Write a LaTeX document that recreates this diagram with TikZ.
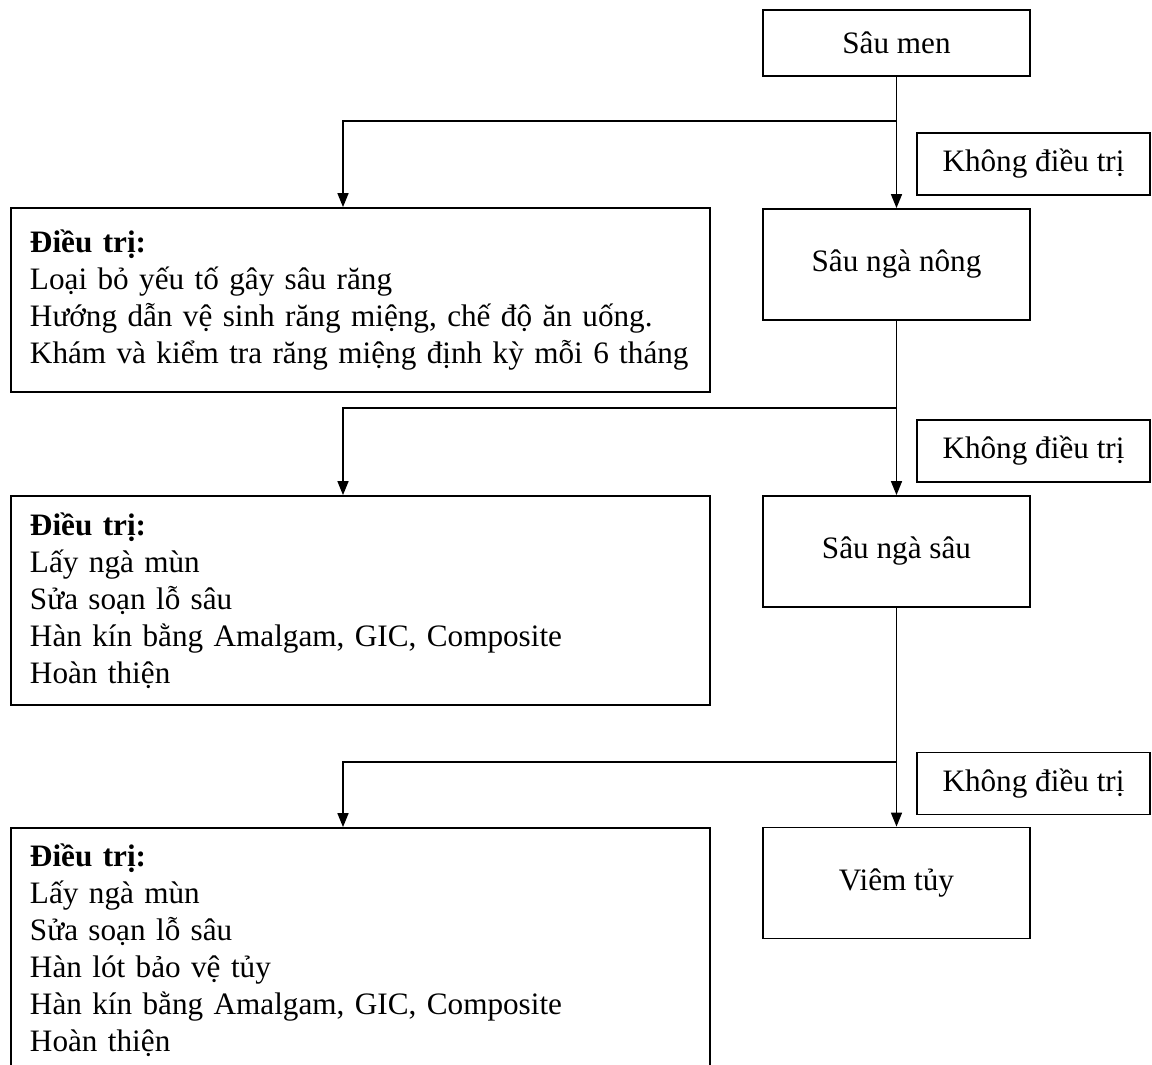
\documentclass[tikz,border=0pt]{standalone}
\usepackage{fontspec}
\setmainfont{Liberation Serif}
\usetikzlibrary{positioning,arrows.meta}

\begin{document}
\begin{tikzpicture}[x=0.5pt, y=-0.5pt,
    stage/.style={rectangle, draw, line width=0.9pt, minimum width=133.5pt, minimum height=55.5pt, inner sep=0pt, font=\fontsize{15.6pt}{18.5pt}\selectfont},
    treatment/.style={rectangle, draw, line width=0.9pt, text width=330.5pt, inner xsep=9.5pt, inner ysep=0pt, align=left, font=\fontsize{15.6pt}{18.5pt}\selectfont},
    skip_note/.style={rectangle, draw, line width=0.8pt, minimum width=116.5pt, minimum height=31pt, inner sep=0pt, font=\fontsize{15.6pt}{18.5pt}\selectfont},
    flow_arrow/.style={-{Triangle[width=5.5pt, length=7pt]}, line width=0.8pt}
]
\clip (0,0) rectangle (1152,1065);

% --- stages of the lesion (right column) ---
\node[stage, minimum height=33pt] (men) at (896.5,43) {Sâu men};
\node[stage] (nong) at (896.5,264.5) {Sâu ngà nông};
\node[stage] (ngasau) at (896.5,551.5) {Sâu ngà sâu};
\node[stage] (viem) at (896.5,883) {Viêm tủy};

% --- untreated path labels ---
\foreach \i/\y in {1/164, 2/451, 3/783.5} {
    \node[skip_note] (skip\i) at (1033.5,\y) {Không điều trị};
}

% --- treatment boxes (left column) ---
\node[treatment, minimum height=92pt] (treat1) at (360.5,300) {\textbf{Điều trị:}\\
Loại bỏ yếu tố gây sâu răng\\
Hướng dẫn vệ sinh răng miệng, chế độ ăn uống.\\
Khám và kiểm tra răng miệng định kỳ mỗi 6 tháng};

\node[treatment, minimum height=104.5pt] (treat2) at (360.5,600.5) {\textbf{Điều trị:}\\
Lấy ngà mùn\\
Sửa soạn lỗ sâu\\
Hàn kín bằng Amalgam, GIC, Composite\\
Hoàn thiện};

\node[treatment, minimum height=122pt] (treat3) at (360.5,950) {\textbf{Điều trị:}\\
Lấy ngà mùn\\
Sửa soạn lỗ sâu\\
Hàn lót bảo vệ tủy\\
Hàn kín bằng Amalgam, GIC, Composite\\
Hoàn thiện};

% --- arrows: straight down, plus a branch to the treatment ---
\foreach \i/\up/\down/\y in {1/men/nong/121, 2/nong/ngasau/408, 3/ngasau/viem/762} {
    \draw[flow_arrow] (\up.south) -- (\down.north);
    \coordinate (split\i) at (\up.south |- 0,\y);
    \coordinate (turn\i) at (343,\y);
    \draw[flow_arrow] (split\i) -- (turn\i) -- (turn\i |- treat\i.north);
}

\end{tikzpicture}
\end{document}
